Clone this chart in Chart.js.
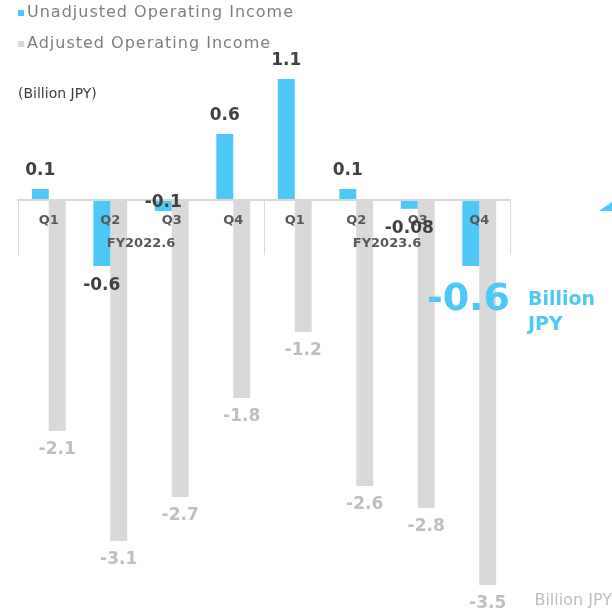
<!DOCTYPE html>
<html>
<head>
<meta charset="utf-8">
<script src="https://cdn.jsdelivr.net/npm/chart.js@4"></script>
<style>
  html, body { margin: 0; padding: 0; background: #fff; }
  #wrap { width: 612px; height: 613px; position: relative; }
</style>
</head>
<body>
<div id="wrap"><canvas id="opChart"></canvas></div>
<script>
// quarterly operating income (billion JPY)
var quarters = ['Q1', 'Q2', 'Q3', 'Q4', 'Q1', 'Q2', 'Q3', 'Q4'];
var fiscalYears = ['FY2022.6', 'FY2023.6'];
var unadjusted = [0.1, -0.6, -0.1, 0.6, 1.1, 0.1, -0.08, -0.6];
var adjusted = [-2.1, -3.1, -2.7, -1.8, -1.2, -2.6, -2.8, -3.5];
var seriesNames = ['Unadjusted Operating Income', 'Adjusted Operating Income'];

var BLUE = '#4dc8f7';
var GREY = '#d9d9d9';
var FONT = '"DejaVu Sans", sans-serif';

// legend, value labels, year groups and notes
var extras = {
    id: 'extras',
    afterDraw: function (chart) {
        var ctx = chart.ctx;
        var x = chart.scales.x, y = chart.scales.y;
        var zero = y.getPixelForValue(0);
        ctx.save();

        // legend (stacked rows)
        ctx.letterSpacing = '1px';
        chart.data.datasets.forEach(function (ds, i) {
            var cy = 13 + i * 31;
            ctx.fillStyle = ds.backgroundColor;
            ctx.fillRect(18, cy - 3, 6, 6);
            ctx.fillStyle = '#7f7f7f';
            ctx.font = '16px ' + FONT;
            ctx.textAlign = 'left';
            ctx.textBaseline = 'middle';
            ctx.fillText(ds.label, 27, cy);
        });
        ctx.letterSpacing = '0px';

        ctx.fillStyle = '#404040';
        ctx.font = '14px ' + FONT;
        ctx.fillText('(Billion JPY)', 18, 94);

        // separators and fiscal year names
        var per = quarters.length / fiscalYears.length;
        ctx.strokeStyle = GREY;
        ctx.lineWidth = 1;
        for (var g = 0; g <= fiscalYears.length; g++) {
            var px = g === 0 ? chart.chartArea.left :
                (g === fiscalYears.length ? chart.chartArea.right :
                 (x.getPixelForTick(g * per - 1) + x.getPixelForTick(g * per)) / 2);
            ctx.beginPath();
            ctx.moveTo(Math.round(px) + 0.5, zero);
            ctx.lineTo(Math.round(px) + 0.5, zero + 55);
            ctx.stroke();
        }
        ctx.fillStyle = '#595959';
        ctx.font = 'bold 13px ' + FONT;
        ctx.textAlign = 'center';
        fiscalYears.forEach(function (fy, g) {
            var a = x.getPixelForTick(g * per), b = x.getPixelForTick((g + 1) * per - 1);
            ctx.fillText(fy, (a + b) / 2, zero + 44);
        });

        // value labels
        var blueMeta = chart.getDatasetMeta(0), greyMeta = chart.getDatasetMeta(1);
        ctx.font = 'bold 17px ' + FONT;
        unadjusted.forEach(function (v, i) {
            if (i === unadjusted.length - 1) return;
            var bar = blueMeta.data[i];
            var ly = v >= 0 ? bar.y - 18 : bar.y + 20;
            if (i === 2) ly = zero + 3;
            ctx.fillStyle = '#404040';
            ctx.fillText(String(v), bar.x, ly);
        });
        adjusted.forEach(function (v, i) {
            var bar = greyMeta.data[i];
            ctx.fillStyle = '#bfbfbf';
            ctx.fillText(String(v), bar.x, bar.y + 19);
        });

        // latest quarter highlight
        var last = blueMeta.data[unadjusted.length - 1];
        ctx.fillStyle = BLUE;
        ctx.textAlign = 'right';
        ctx.font = 'bold 38px ' + FONT;
        ctx.fillText(String(unadjusted[unadjusted.length - 1]), chart.chartArea.right, last.y + 34);
        ctx.textAlign = 'left';
        ctx.font = 'bold 19px ' + FONT;
        ctx.fillText('Billion', 528, last.y + 34);
        ctx.fillText('JPY', 528, last.y + 59);

        ctx.beginPath();
        ctx.moveTo(chart.width - 13, zero + 11);
        ctx.lineTo(chart.width, zero + 11);
        ctx.lineTo(chart.width, zero + 2);
        ctx.closePath();
        ctx.fill();

        ctx.fillStyle = '#bfbfbf';
        ctx.font = '16px ' + FONT;
        ctx.textAlign = 'right';
        ctx.fillText('Billion JPY', chart.width, 601);
        ctx.restore();
    }
};

new Chart(document.getElementById('opChart'), {
    type: 'bar',
    data: {
        labels: quarters,
        datasets: [{
            label: seriesNames[0],
            data: unadjusted,
            backgroundColor: BLUE
        }, {
            label: seriesNames[1],
            data: adjusted,
            backgroundColor: GREY
        }]
    },
    options: {
        responsive: true,
        maintainAspectRatio: false,
        animation: false,
        layout: { padding: { left: 18, right: 102, top: 68, bottom: 17 } },
        plugins: { legend: { display: false }, tooltip: { enabled: false } },
        datasets: { bar: { categoryPercentage: 0.55, barPercentage: 1.0 } },
        scales: {
            x: {
                position: { y: 0 },
                grid: { display: false },
                border: { color: GREY, width: 2, z: 1 },
                ticks: {
                    z: 2,
                    color: '#595959',
                    padding: 5,
                    autoSkip: false,
                    maxRotation: 0,
                    font: { family: 'DejaVu Sans', size: 13, weight: 'bold' }
                }
            },
            y: {
                display: false,
                min: -3.6,
                max: 1.2
            }
        }
    },
    plugins: [extras]
});
</script>
</body>
</html>
